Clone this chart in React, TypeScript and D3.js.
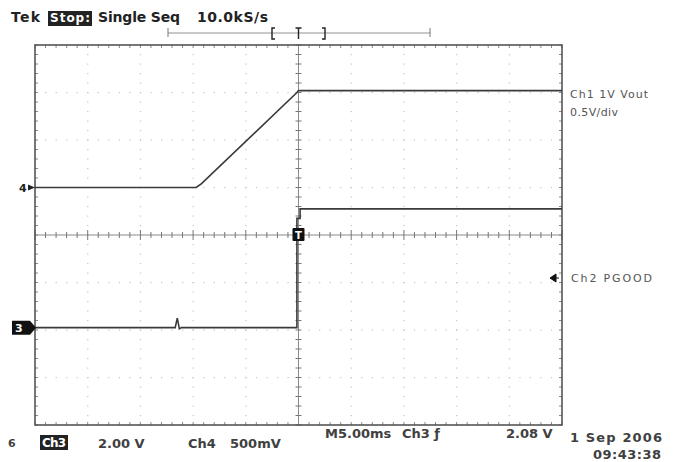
import React, { useRef, useEffect } from 'react';
import * as d3 from 'd3';

// time in ms, volts per channel
const ch4Vout: [number, number][] = [
    [-25, 0], [-9.7, 0], [-9.2, 0.04], [-0.15, 1.0], [0, 1.02], [25, 1.02]
];
const ch3Pgood: [number, number][] = [
    [-25, 0], [-11.7, 0], [-11.5, 0.4], [-11.3, -0.05], [-11.1, 0],
    [-0.15, 0], [-0.15, 4.6], [0.15, 4.6], [0.15, 5.0], [25, 5.0]
];
const ch4Pos = 1.0;      // divisions
const ch4VoltsPerDiv = 0.5;
const ch3Pos = -1.95;
const ch3VoltsPerDiv = 2.0;

const topLabels = ['Tek', 'Stop:', 'Single Seq', '10.0kS/s'];
const bottomLabels = ['Ch3', '2.00 V', 'Ch4', '500mV', 'M5.00ms', 'Ch3 \u0192', '2.08 V', '1 Sep 2006', '09:43:38'];
const rightLabels = ['Ch1  1V Vout', '0.5V/div', 'Ch2  PGOOD'];

const W = 674;
const H = 462;

function App() {
    const ref = useRef<SVGSVGElement>(null);

    useEffect(() => {
        if (!ref.current) return;
        const svg = d3.select(ref.current);
        svg.selectAll('*').remove();

        const x = d3.scaleLinear().domain([-25, 25]).range([35, 562]);
        const y = d3.scaleLinear().domain([-4, 4]).range([425, 45]);
        const gridCol = '#c4c4c4';
        const ink = '#3a3a3a';

        const g = svg.append('g');

        // dotted graticule
        const xDivs = d3.range(-20, 21, 5);
        const yDivs = d3.range(-3, 4, 1);
        const xMinor = d3.range(-25, 25.01, 1);
        const yMinor = d3.range(-4, 4.01, 0.2);
        xDivs.filter(d => d !== 0).forEach(d => {
            g.append('g').selectAll('rect').data(yMinor).join('rect')
                .attr('x', x(d) - 0.5).attr('y', v => y(v) - 0.5)
                .attr('width', 1.2).attr('height', 1.2).attr('fill', gridCol);
        });
        yDivs.filter(d => d !== 0).forEach(d => {
            g.append('g').selectAll('rect').data(xMinor).join('rect')
                .attr('x', t => x(t) - 0.5).attr('y', y(d) - 0.5)
                .attr('width', 1.2).attr('height', 1.2).attr('fill', gridCol);
        });

        // center axes with ticks
        g.append('line').attr('x1', x(-25)).attr('x2', x(25)).attr('y1', y(0)).attr('y2', y(0))
            .attr('stroke', '#8a8a8a').attr('stroke-width', 1);
        g.append('line').attr('x1', x(0)).attr('x2', x(0)).attr('y1', y(-4)).attr('y2', y(4))
            .attr('stroke', '#8a8a8a').attr('stroke-width', 1);
        g.append('g').selectAll('line').data(xMinor).join('line')
            .attr('x1', t => x(t)).attr('x2', t => x(t))
            .attr('y1', t => y(0) - (t % 5 === 0 ? 5 : 3)).attr('y2', t => y(0) + (t % 5 === 0 ? 5 : 3))
            .attr('stroke', '#777').attr('stroke-width', 1);
        g.append('g').selectAll('line').data(yMinor).join('line')
            .attr('y1', v => y(v)).attr('y2', v => y(v))
            .attr('x1', x(0) - 3).attr('x2', x(0) + 3)
            .attr('stroke', '#777').attr('stroke-width', 1);

        // border ticks
        g.append('g').selectAll('line').data(xMinor).join('line')
            .attr('x1', t => x(t)).attr('x2', t => x(t))
            .attr('y1', y(4)).attr('y2', y(4) + 3).attr('stroke', '#888');
        g.append('g').selectAll('line').data(xMinor).join('line')
            .attr('x1', t => x(t)).attr('x2', t => x(t))
            .attr('y1', y(-4)).attr('y2', y(-4) - 3).attr('stroke', '#888');
        g.append('g').selectAll('line').data(yMinor).join('line')
            .attr('y1', v => y(v)).attr('y2', v => y(v))
            .attr('x1', x(-25)).attr('x2', x(-25) + 3).attr('stroke', '#888');
        g.append('g').selectAll('line').data(yMinor).join('line')
            .attr('y1', v => y(v)).attr('y2', v => y(v))
            .attr('x1', x(25)).attr('x2', x(25) - 3).attr('stroke', '#888');

        g.append('rect').attr('x', x(-25)).attr('y', y(4))
            .attr('width', x(25) - x(-25)).attr('height', y(-4) - y(4))
            .attr('fill', 'none').attr('stroke', '#555').attr('stroke-width', 1.6);

        // traces
        const line4 = d3.line<[number, number]>()
            .x(d => x(d[0])).y(d => y(ch4Pos + d[1] / ch4VoltsPerDiv));
        const line3 = d3.line<[number, number]>()
            .x(d => x(d[0])).y(d => y(ch3Pos + d[1] / ch3VoltsPerDiv));
        g.append('path').attr('d', line4(ch4Vout)).attr('fill', 'none')
            .attr('stroke', ink).attr('stroke-width', 1.6);
        g.append('path').attr('d', line3(ch3Pgood)).attr('fill', 'none')
            .attr('stroke', ink).attr('stroke-width', 1.6);

        // trigger marker at center
        g.append('rect').attr('x', x(0) - 6).attr('y', y(0) - 7).attr('width', 12).attr('height', 13)
            .attr('fill', '#111').attr('rx', 1);
        g.append('text').attr('x', x(0)).attr('y', y(0) + 4).attr('text-anchor', 'middle')
            .attr('font-family', 'DejaVu Sans').attr('font-size', 10).attr('font-weight', 'bold')
            .attr('fill', '#fff').text('T');

        // ground markers on left
        const y4 = y(ch4Pos);
        g.append('text').attr('x', 19).attr('y', y4 + 4).attr('font-family', 'DejaVu Sans')
            .attr('font-size', 11).attr('font-weight', 'bold').attr('fill', '#222').text('4');
        g.append('path').attr('d', `M28,${y4 - 3}L35,${y4}L28,${y4 + 3}Z`).attr('fill', '#222');
        const y3 = y(ch3Pos);
        g.append('path').attr('d', `M12,${y3 - 7}H30L36,${y3}L30,${y3 + 7}H12Z`).attr('fill', '#111');
        g.append('text').attr('x', 15).attr('y', y3 + 4).attr('font-family', 'DejaVu Sans')
            .attr('font-size', 11).attr('font-weight', 'bold').attr('fill', '#fff').text('3');

        // record bar on top
        const bar = svg.append('g').attr('stroke', '#777').attr('fill', 'none');
        bar.append('line').attr('x1', 168).attr('x2', 430).attr('y1', 33).attr('y2', 33).attr('stroke-width', 0.8);
        bar.append('line').attr('x1', 168).attr('x2', 168).attr('y1', 28).attr('y2', 37);
        bar.append('line').attr('x1', 430).attr('x2', 430).attr('y1', 28).attr('y2', 37);
        const br = svg.append('g').attr('stroke', '#222').attr('fill', 'none').attr('stroke-width', 1.4);
        br.append('path').attr('d', 'M275,28H272V39H275');
        br.append('path').attr('d', 'M322,28H325V39H322');
        br.append('path').attr('d', `M${x(0) - 3},28H${x(0) + 3}M${x(0)},28V39`);

        // top text
        const top = svg.append('g').attr('font-family', 'DejaVu Sans').attr('font-size', 14)
            .attr('font-weight', 'bold').attr('fill', '#222');
        top.append('text').attr('x', 11).attr('y', 22).attr('textLength', 29).text(topLabels[0]);
        top.append('rect').attr('x', 48).attr('y', 11).attr('width', 44).attr('height', 15).attr('fill', '#222');
        top.append('text').attr('x', 50).attr('y', 22).attr('fill', '#fff').attr('font-size', 12)
            .attr('textLength', 40).text(topLabels[1]);
        top.append('text').attr('x', 98).attr('y', 22).attr('textLength', 82).text(topLabels[2]);
        top.append('text').attr('x', 197).attr('y', 22).attr('textLength', 71).text(topLabels[3]);

        // right labels
        const rt = svg.append('g').attr('font-family', 'DejaVu Sans').attr('font-size', 11).attr('fill', '#555');
        rt.append('text').attr('x', 570).attr('y', 98).attr('textLength', 78).text(rightLabels[0]);
        rt.append('text').attr('x', 570).attr('y', 116).attr('textLength', 48).text(rightLabels[1]);
        rt.append('text').attr('x', 571).attr('y', 282).attr('textLength', 81).text(rightLabels[2]);
        svg.append('path').attr('d', 'M550,278L556,274V282Z M556,278H559').attr('fill', '#111')
            .attr('stroke', '#111').attr('stroke-width', 1);

        // bottom text
        const bt = svg.append('g').attr('font-family', 'DejaVu Sans').attr('font-size', 13)
            .attr('font-weight', 'bold').attr('fill', '#404040');
        const place = (label: string, px: number, py: number) =>
            bt.append('text').attr('x', px).attr('y', py).text(label);
        bt.append('text').attr('x', 8).attr('y', 447).attr('font-size', 11).text('6');
        bt.append('rect').attr('x', 40).attr('y', 435).attr('width', 28).attr('height', 15).attr('fill', '#222');
        bt.append('text').attr('x', 42).attr('y', 447).attr('fill', '#fff').attr('font-size', 12)
            .attr('textLength', 24).text(bottomLabels[0]);
        place(bottomLabels[1], 98, 448);
        place(bottomLabels[2], 188, 448);
        place(bottomLabels[3], 230, 448);
        place(bottomLabels[4], 325, 438);
        place(bottomLabels[5], 402, 438);
        place(bottomLabels[6], 506, 438);
        place(bottomLabels[7], 570, 442).attr('textLength', 92);
        place(bottomLabels[8], 593, 459).attr('textLength', 68);
    }, []);

    return (
        <svg
            ref={ref}
            width={W}
            height={H}
            style={{ position: 'absolute', left: 0, top: 0, background: '#fff' }}
        />
    );
}

export default App;
